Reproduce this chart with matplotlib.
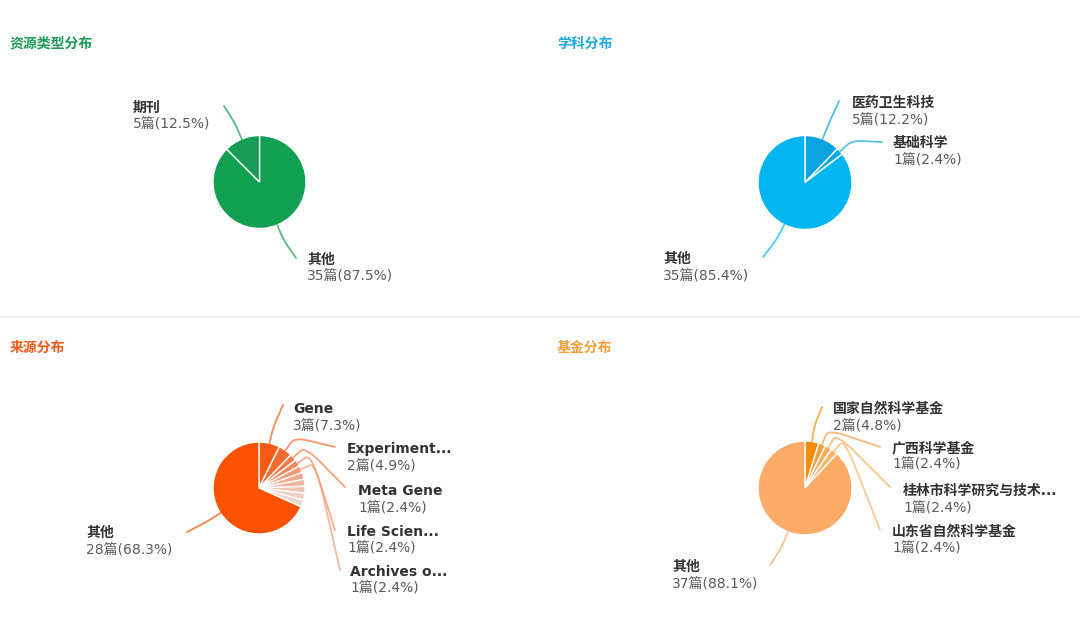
import numpy as np
import matplotlib
matplotlib.use("Agg")
import matplotlib.pyplot as plt
from matplotlib.path import Path
from matplotlib.patches import PathPatch

plt.rcParams['font.family'] = ['DejaVu Sans', 'Noto Sans CJK SC']

# ---------------- data ----------------
res_titles = "资源类型分布"
res_labels = ["其他", "期刊"]
res_values = [35, 5]
res_colors = ["#12a052", "#169c55"]

sub_title = "学科分布"
sub_labels = ["医药卫生科技", "基础科学", "其他"]
sub_values = [5, 1, 35]
sub_colors = ["#0ba3e0", "#12a8e4", "#00b5f0"]

src_title = "来源分布"
src_labels = ["Gene", "Experiment...", "Meta Gene", "Life Scien...", "Archives o...",
              "", "", "", "", "", "其他"]
src_values = [3, 2, 1, 1, 1, 1, 1, 1, 1, 1, 28]
src_colors = ["#f85a14", "#f46a30", "#f27a48", "#f08a60", "#f09a78",
              "#f0a88c", "#f0b5a0", "#f0c2b2", "#f0cec2", "#f0d8d0", "#fa5200"]

fund_title = "基金分布"
fund_labels = ["国家自然科学基金", "广西科学基金", "桂林市科学研究与技术...", "山东省自然科学基金", "其他"]
fund_values = [2, 1, 1, 1, 37]
fund_colors = ["#f08c10", "#f4a040", "#f6ac58", "#f8b468", "#fbab66"]

W, H = 1080, 617

# layout: (center x, center y, radius, title xy, title colour, label layout)
# label layout per slice: (line end x, line end y, text left x, first line centre y) or None
charts = [
    dict(title=res_titles, labels=res_labels, values=res_values, colors=res_colors,
         c=(259.5, 182), r=46.5, t=(10, 44), tc="#1f9a55",
         lay=[(296, 258, 307, 260), (224, 106, 133, 108)]),
    dict(title=sub_title, labels=sub_labels, values=sub_values, colors=sub_colors,
         c=(805, 182.5), r=47, t=(557, 44), tc="#1fa9e0",
         lay=[(839, 101, 852, 103), (882, 142, 893, 143), (763, 257, 663, 259)]),
    dict(title=src_title, labels=src_labels, values=src_values, colors=src_colors,
         c=(259, 488), r=46, t=(10, 348), tc="#f05a1a",
         lay=[(283, 405, 293, 409), (335, 447, 347, 449), (345, 487, 358, 491),
              (335, 530, 347, 532), (340, 570, 350, 572),
              None, None, None, None, None, (187, 532, 86, 533)]),
    dict(title=fund_title, labels=fund_labels, values=fund_values, colors=fund_colors,
         c=(805, 488), r=47, t=(557, 348), tc="#f3a03c",
         lay=[(822, 407, 833, 409), (880, 447, 892, 448), (890, 487, 903, 491),
              (880, 530, 892, 532), (770, 565, 672, 567)]),
]

fig = plt.figure(figsize=(10.8, 6.17), dpi=100)
ax = fig.add_axes([0, 0, 1, 1])

def Y(py):
    return H - py

L1 = 16

for ch in charts:
    cx, cy = ch["c"]
    r = ch["r"]
    vals = ch["values"]
    total = sum(vals)
    ax.pie(vals, colors=ch["colors"], startangle=90, counterclock=False,
           center=(cx, Y(cy)), radius=r,
           wedgeprops=dict(edgecolor="white", linewidth=1.0))
    ax.text(ch["t"][0], Y(ch["t"][1]), ch["title"], color=ch["tc"],
            fontsize=10, fontweight="bold", va="center", ha="left")
    cum = 0
    for lab, v, col, lay in zip(ch["labels"], vals, ch["colors"], ch["lay"]):
        mid = cum + v / 2
        cum += v
        if lay is None or lab == "":
            continue
        th = np.deg2rad(90 - 360 * mid / total)
        p0 = np.array([cx + r * np.cos(th), Y(cy) + r * np.sin(th)])
        p1 = np.array([cx + (r + L1) * np.cos(th), Y(cy) + (r + L1) * np.sin(th)])
        pe = np.array([lay[0], Y(lay[1])])
        a = p0 + 0.6 * (p1 - p0)
        b = p1 + 0.35 * (pe - p1)
        verts = [p0, a, p1, b, pe]
        codes = [Path.MOVETO, Path.LINETO, Path.CURVE3, Path.CURVE3, Path.LINETO]
        ax.add_patch(PathPatch(Path(verts, codes), fill=False, edgecolor=col,
                               alpha=0.7, linewidth=1.3, capstyle="round"))
        ax.text(lay[2], Y(lay[3]), lab, fontsize=10, fontweight="bold",
                color="#333333", va="center", ha="left")
        ax.text(lay[2], Y(lay[3] + 17), f"{v}篇({100 * v / total:.1f}%)",
                fontsize=10, color="#5a5a5a", va="center", ha="left")

# faint divider between rows
ax.plot([0, W], [Y(317), Y(317)], color="#eeeeee", linewidth=1.2)

ax.set_xlim(0, W)
ax.set_ylim(0, H)
ax.set_aspect("auto")
ax.axis("off")

fig.savefig("out.png", dpi=100, facecolor="white")
